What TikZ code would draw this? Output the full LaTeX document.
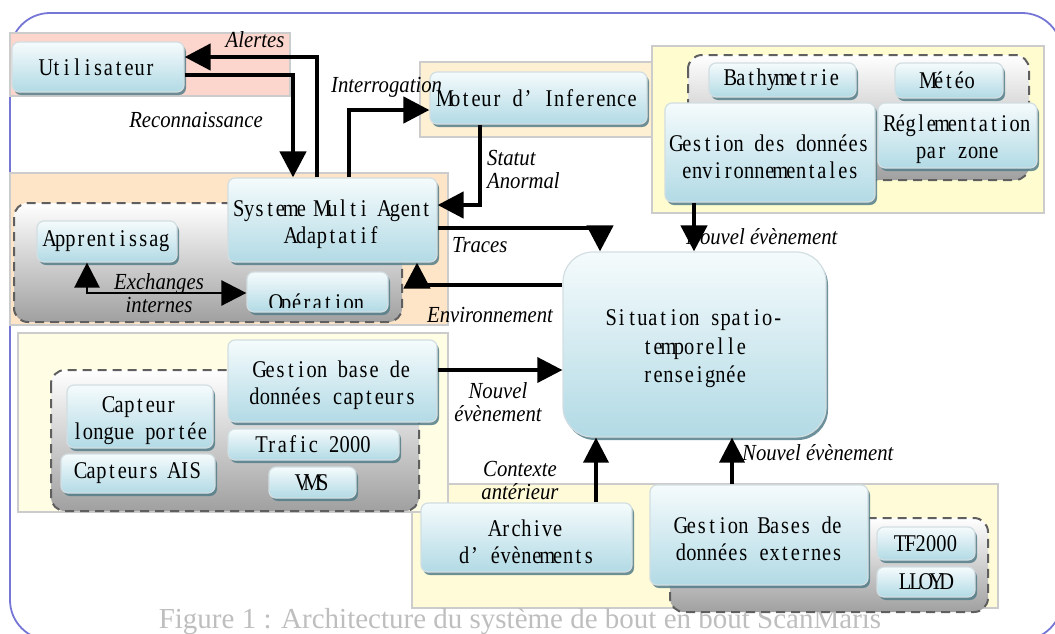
\documentclass[tikz,border=0pt]{standalone}
\usepackage{fontspec}
\setmainfont{Liberation Serif}
\newfontfamily\nf{Liberation Serif}[FakeStretch=0.85]
\newfontfamily\lf{Liberation Serif}[FakeStretch=0.9]
\usetikzlibrary{arrows.meta,shadows,calc}
\definecolor{framec}{RGB}{118,118,214}
\definecolor{pinkp}{RGB}{252,214,204}
\definecolor{motp}{RGB}{254,240,210}
\definecolor{envp}{RGB}{255,253,208}
\definecolor{smap}{RGB}{254,229,200}
\definecolor{senp}{RGB}{255,253,228}
\definecolor{botp}{RGB}{255,251,216}
\definecolor{panelb}{RGB}{204,204,204}
\definecolor{nodetop}{RGB}{245,251,252}
\definecolor{nodebot}{RGB}{178,218,229}
\definecolor{nodeborder}{RGB}{210,222,226}
\definecolor{nodeshadow}{RGB}{84,126,138}
\definecolor{grpbot}{RGB}{160,160,160}
\definecolor{grpdraw}{RGB}{95,95,95}
\definecolor{capc}{RGB}{190,190,190}
\newcommand\tstrut{\rule{0pt}{25pt}}
\ExplSyntaxOn
\dim_new:N \l_cellw_dim
\dim_set:Nn \l_cellw_dim {10.4pt}
\seq_new:N \l_monow_seq
\NewDocumentCommand \mono { m }
  {
    \mode_leave_vertical:
    \seq_set_split:Nnn \l_monow_seq { ~ } { #1 }
    \seq_map_indexed_inline:Nn \l_monow_seq
      {
        \int_compare:nNnT { ##1 } > { 1 } { \hbox_to_wd:nn { \l_cellw_dim } { } }
        \tl_map_inline:nn { ##2 } { \hbox_to_wd:nn { \l_cellw_dim } { \hss ####1 \hss } }
      }
  }
\ExplSyntaxOff
\begin{document}
\begin{tikzpicture}[x=1pt,y=-1pt,
  panel/.style={draw=panelb,line width=1.5pt},
  grp/.style={rounded corners=14pt,top color=white,bottom color=grpbot,draw=grpdraw,line width=2pt,dash pattern=on 9pt off 6pt},
  box/.style={rounded corners=7pt,top color=nodetop,bottom color=nodebot,draw=nodeborder,line width=1.2pt,inner sep=0pt,align=center,
    font=\nf\fontsize{24}{27}\selectfont,
    drop shadow={shadow xshift=2pt,shadow yshift=-3pt,fill=nodeshadow,opacity=0.85}},
  lab/.style={inner sep=0pt,align=center,font=\lf\itshape\fontsize{23}{23}\selectfont},
  arr/.style={-{Triangle[length=26pt,width=26pt]},line width=4.5pt},
  arrm/.style={-{Triangle[length=25pt,width=25pt]},line width=3.5pt},
  arrd/.style={{Triangle[length=25pt,width=25pt]}-{Triangle[length=25pt,width=25pt]},line width=2.5pt}
]
\useasboundingbox (0,0) rectangle (1055,633);
% frame
\draw[framec,line width=1.8pt,rounded corners=40pt] (10,13) rectangle (1062,640);
% panels
\draw[panel,fill=pinkp] (10,33) rectangle (290,96);
\draw[panel,fill=motp] (420,62) rectangle (652,137);
\draw[panel,fill=envp] (652,46) rectangle (1044,213);
\draw[panel,fill=smap] (10,173) rectangle (448,325);
\draw[panel,fill=botp] (412,484) rectangle (998,608);
\draw[panel,fill=senp] (18,333) rectangle (448,512);
% caption
\node[anchor=base,inner sep=0pt,text=capc,font=\fontsize{29}{30}\selectfont] (cap) at (520,628) {Figure 1 : Architecture du système de bout en bout ScanMaris};
% dashed groups
\draw[grp] (14,203) rectangle (402,322);
\draw[grp] (688,55) rectangle (1029,180);
\draw[grp] (51,370) rectangle (419,511);
\draw[grp] (670,518) rectangle (988,612);
% nodes
\node[box,minimum width=172pt,minimum height=50pt] (user) at (98,67) {\mono{Utilisateur}};
\node[box,minimum width=217pt,minimum height=52pt] (mot) at (538.5,98) {\mono{Moteur d’ Inference}};
\node[box,minimum width=140pt,minimum height=41pt] (app) at (107,241.5) {\mono{Apprentissag}};
\node[box,minimum width=141pt,minimum height=40pt] (ope) at (317.5,292) {};
\begin{scope}
\clip (ope.north west) rectangle ([yshift=5pt]ope.south east);
\node[inner sep=0pt,anchor=base,font=\nf\fontsize{24}{27}\selectfont] (opet) at ([yshift=2pt]ope.south) {\mono{Opération}};
\end{scope}
\node[box,minimum width=209pt,minimum height=84pt] (sma) at (332.5,220) {\tstrut\mono{Systeme Multi Agent}\\\mono{Adaptatif}};
\node[box,minimum width=147pt,minimum height=34pt] (bathy) at (782.5,80) {\mono{Bathymetrie}};
\node[box,minimum width=108pt,minimum height=35pt] (meteo) at (949,80.5) {\mono{Météo}};
\node[box,minimum width=210pt,minimum height=99pt] (genv) at (770,152.5) {\tstrut\mono{Gestion des données}\\\mono{environnementales}};
\node[box,minimum width=159pt,minimum height=65pt] (regl) at (957.5,135.5) {\tstrut\mono{Réglementation}\\\mono{par zone}};
\node[box,rounded corners=30pt,minimum width=263pt,minimum height=185pt,font=\nf\fontsize{24}{28.5}\selectfont] (sit) at (694.5,344.5) {\tstrut\mono{Situation spatio-}\\\mono{temporelle}\\\mono{renseignée}};
\node[box,minimum width=146pt,minimum height=63pt] (clp) at (140,416.5) {\tstrut\mono{Capteur}\\\mono{longue portée}};
\node[box,minimum width=154pt,minimum height=39pt] (ais) at (138,473.5) {\mono{Capteurs AIS}};
\node[box,minimum width=171pt,minimum height=31pt] (traf) at (313.5,444.5) {\mono{Trafic 2000}};
\node[box,minimum width=87pt,minimum height=31pt] (vms) at (312.5,482.5) {\mono{VMS}};
\node[box,minimum width=209pt,minimum height=82pt] (gcapt) at (332.5,381) {\tstrut\mono{Gestion base de}\\\mono{données capteurs}};
\node[box,minimum width=211pt,minimum height=69pt] (arch) at (526.5,537.5) {\tstrut\mono{Archive}\\\mono{d’ évènements}};
\node[box,minimum width=98pt,minimum height=33pt] (tf) at (926,543.5) {\mono{TF2000}};
\node[box,minimum width=98pt,minimum height=30pt] (lloyd) at (926,582) {\mono{LLOYD}};
\node[box,minimum width=218pt,minimum height=100pt] (gext) at (759,535) {\tstrut\mono{Gestion Bases de}\\\mono{données externes}};
% labels
\node[lab] (lAl) at (255,40) {Alertes};
\node[lab] (lRe) at (196,120) {Reconnaissance};
\node[lab,anchor=west] (lIn) at (331,87) {Interrogation};
\node[lab,anchor=west,align=left] (lSt) at (487,169) {Statut\\Anormal};
\node[lab,anchor=west] (lTr) at (452,245) {Traces};
\node[lab,anchor=west] (lEn) at (427,315) {Environnement};
\node[lab,anchor=west] (lN1) at (686,237) {Nouvel évènement};
\node[lab] (lN2) at (498,402) {Nouvel\\évènement};
\node[lab] (lCo) at (520,481) {Contexte\\antérieur};
\node[lab,anchor=west] (lN3) at (742,453) {Nouvel évènement};
\node[lab] (lEx) at (159,293) {Exchanges\\internes};
% connectors
\coordinate (cA) at (317,57);
\coordinate (cR) at (293,75);
\coordinate (cI) at (349,110);
\coordinate (cS) at (480,205);
\coordinate (cT) at (600,228);
\coordinate (cE) at (417,285);
\coordinate (cN) at (694,0);
\coordinate (cC) at (0,370);
\coordinate (cX) at (596,0);
\coordinate (cB) at (732,0);
\coordinate (cY) at (87,293);
\draw[arr] (sma.north -| cA) |- (user.east |- cA);
\draw[arr] (user.east |- cR) -| (sma.north -| cR);
\draw[arr] (sma.north -| cI) |- (mot.west |- cI);
\draw[arr] (mot.south -| cS) |- (sma.east |- cS);
\draw[arr] (sma.east |- cT) -| (sit.north -| cT);
\draw[arr] (sit.west |- cE) -| (sma.south -| cE);
\draw[arr] (genv.south -| cN) -- (sit.north -| cN);
\draw[arrm] (gcapt.east |- cC) -- (sit.west |- cC);
\draw[arrm] (arch.north -| cX) -- (sit.south -| cX);
\draw[arrm] (gext.north -| cB) -- (sit.south -| cB);
\draw[arrd] (app.south -| cY) |- (ope.west |- cY);
\end{tikzpicture}
\end{document}
